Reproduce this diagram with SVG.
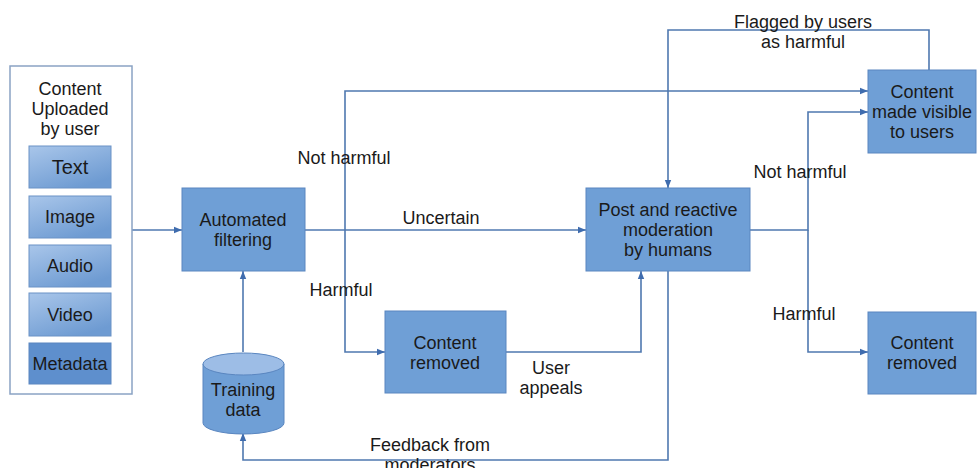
<svg xmlns="http://www.w3.org/2000/svg" width="977" height="468" viewBox="0 0 977 468">
<style>
text{font-family:"Liberation Sans",Arial,sans-serif;font-size:18px;fill:#1a1a1a;text-anchor:middle}
.box{fill:#6f9fd6;stroke:#5a86c0;stroke-width:1}
.sub{fill:url(#g);stroke:#6a92c6;stroke-width:1}
.st{font-size:20px}
.c{fill:none;stroke:#4f78b0;stroke-width:1.6;marker-end:url(#a)}
</style>
<defs>
<linearGradient id="g" x1="0" y1="0" x2="0.6" y2="1">
<stop offset="0" stop-color="#a9c6ea"/>
<stop offset="1" stop-color="#6e9bd2"/>
</linearGradient>
<marker id="a" viewBox="0 0 10 10" refX="10" refY="5" markerWidth="8" markerHeight="8" orient="auto" markerUnits="userSpaceOnUse">
<path d="M0,1 L10,5 L0,9 Z" fill="#3f6cae"/>
</marker>
</defs>
<g id="connectors">
<path class="c" d="M132,230 H182"/>
<path class="c" d="M243,352 V271"/>
<path class="c" d="M305,230 H586"/>
<path class="c" d="M345,230 V91 H868"/>
<path class="c" d="M345,230 V352 H385"/>
<path class="c" d="M506,352 H641 V271"/>
<path class="c" d="M668,271 V460 H243 V433"/>
<path class="c" d="M750,230 H808 V112 H868"/>
<path class="c" d="M808,230 V352 H868"/>
<path class="c" d="M929,70 V30 H668 V188"/>
<text x="441" y="224">Uncertain</text>
<text x="344" y="164">Not harmful</text>
<text x="341" y="296">Harmful</text>
<text x="551" y="374">User</text>
<text x="551" y="394">appeals</text>
<text x="430" y="451">Feedback from</text>
<text x="430" y="471">moderators</text>
<text x="800" y="178">Not harmful</text>
<text x="804" y="320">Harmful</text>
<text x="803" y="28">Flagged by users</text>
<text x="803" y="48">as harmful</text>
</g>
<g id="content-uploaded">
<rect x="10" y="66" width="122" height="328" fill="#fff" stroke="#8aa3c4" stroke-width="1.5"/>
<text x="70" y="95">Content</text>
<text x="70" y="115">Uploaded</text>
<text x="70" y="135">by user</text>
</g>
<g id="text-box"><rect class="sub" x="29" y="146" width="82" height="42"/><text class="st" x="70" y="174">Text</text></g>
<g id="image-box"><rect class="sub" x="29" y="196" width="82" height="42"/><text x="70" y="223">Image</text></g>
<g id="audio-box"><rect class="sub" x="29" y="245" width="82" height="42"/><text x="70" y="272">Audio</text></g>
<g id="video-box"><rect class="sub" x="29" y="293" width="82" height="43"/><text x="70" y="321">Video</text></g>
<g id="metadata-box"><rect x="29" y="343" width="82" height="41" fill="#5e8fcd" stroke="#5a86c0"/><text x="70" y="370">Metadata</text></g>
<g id="automated-filtering">
<rect class="box" x="182" y="188" width="123" height="83"/>
<text x="243" y="226">Automated</text>
<text x="243" y="246">filtering</text>
</g>
<g id="training-data">
<path d="M203,364 V423 A40.5,11 0 0 0 284,423 V364" fill="#6f9fd6" stroke="#5a86c0"/>
<ellipse cx="243.5" cy="364" rx="40.5" ry="11" fill="#9dbde6" stroke="#5a86c0"/>
<text x="243" y="396">Training</text>
<text x="243" y="416">data</text>
</g>
<g id="content-removed-1">
<rect class="box" x="385" y="311" width="121" height="82"/>
<text x="445" y="349">Content</text>
<text x="445" y="369">removed</text>
</g>
<g id="post-moderation">
<rect class="box" x="586" y="188" width="164" height="83"/>
<text x="668" y="216">Post and reactive</text>
<text x="668" y="236">moderation</text>
<text x="668" y="256">by humans</text>
</g>
<g id="content-visible">
<rect class="box" x="868" y="70" width="108" height="83"/>
<text x="922" y="98">Content</text>
<text x="922" y="118">made visible</text>
<text x="922" y="138">to users</text>
</g>
<g id="content-removed-2">
<rect class="box" x="868" y="312" width="108" height="82"/>
<text x="922" y="349">Content</text>
<text x="922" y="369">removed</text>
</g>
</svg>
